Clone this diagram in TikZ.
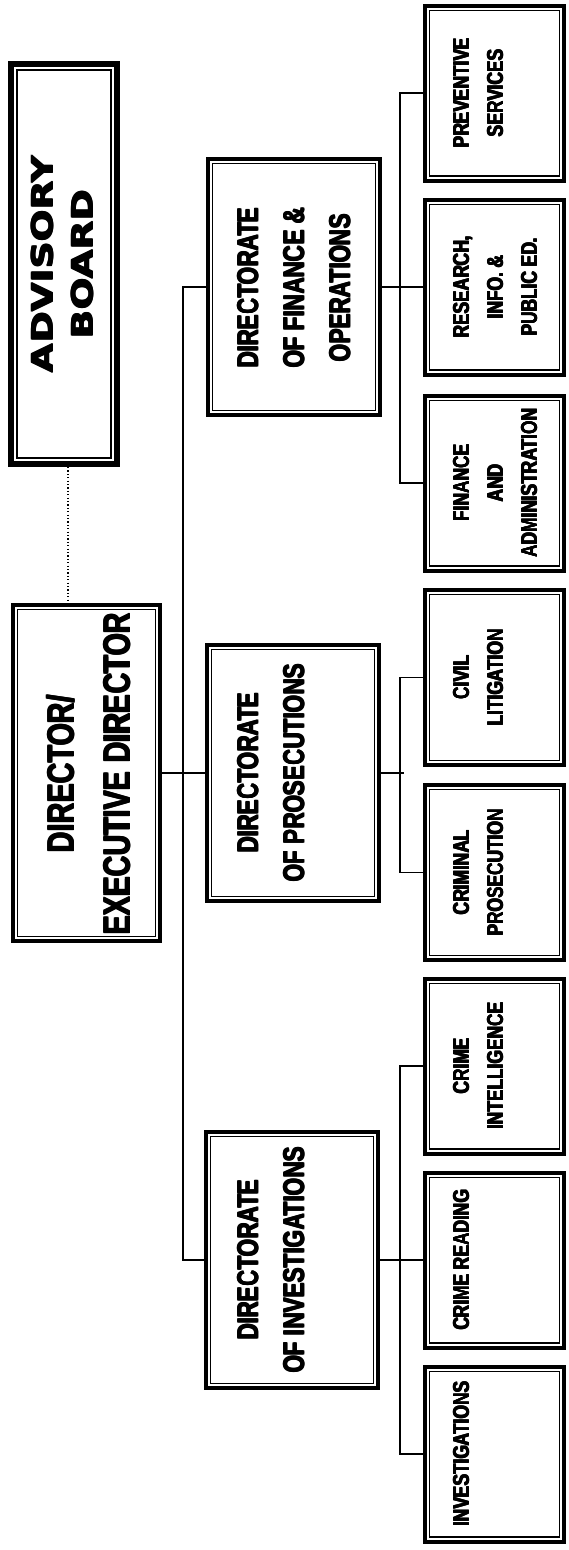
\documentclass[tikz,border=0pt]{standalone}
\usepackage{fontspec}
\setmainfont{Liberation Sans}
\newfontfamily\condfont[FakeStretch=0.77]{Liberation Sans}
\newfontfamily\widefont[FakeStretch=1.3]{DejaVu Sans}
\newsavebox\rtbox
% rotated multi-line text, thickened by overprinting shifted copies
\newcommand\rottext[4]{\rotatebox{90}{\fontsize{#1}{#2}\selectfont
  \sbox\rtbox{\begin{tabular}{@{}c@{}}#3\end{tabular}}%
  \rlap{\usebox\rtbox}\rlap{\kern#4\usebox\rtbox}%
  \rlap{\raisebox{#4}{\usebox\rtbox}}\kern#4\raisebox{#4}{\usebox\rtbox}}}
\begin{document}
\begin{tikzpicture}[x=1pt,y=-1pt,
  box/.style={draw, line width=4pt, fill=white, inner sep=0pt,
    path picture={\draw[line width=1.2pt]
      ([shift={(4.6pt,-4.6pt)}]path picture bounding box.north west) rectangle
      ([shift={(-4.6pt,4.6pt)}]path picture bounding box.south east);}},
  advbox/.style={draw, line width=6pt, fill=white, inner sep=0pt,
    path picture={\draw[line width=1.4pt]
      ([shift={(6pt,-6pt)}]path picture bounding box.north west) rectangle
      ([shift={(-6pt,6pt)}]path picture bounding box.south east);}},
  childbox/.style={box, minimum width=139pt, minimum height=175pt},
  midbox/.style={box, minimum width=172pt, minimum height=256pt},
  txt/.style={anchor=west, inner sep=0pt},
  condtxt/.style={txt, font=\condfont\bfseries},
  conn/.style={line width=1.2pt},
  dotconn/.style={line width=1.2pt, dash pattern=on 1.2pt off 2.2pt}
]
\fill[white] (0,0) rectangle (568,1550);
\useasboundingbox (0,0) rectangle (568,1550);

% boxes
\node[advbox, minimum width=106pt, minimum height=400pt] (adv) at (64,264) {};
\node[box, minimum width=147pt, minimum height=336pt] (dir) at (86.5,773) {};
\node[midbox] (fin) at (294,287) {};
\node[midbox] (pro) at (293,773) {};
\node[midbox] (inv) at (292,1260) {};
\node[childbox] (prev) at (494.5,93) {};
\node[childbox] (res) at (494.5,287) {};
\node[childbox] (fa) at (494.5,483) {};
\node[childbox] (civ) at (494.5,677.5) {};
\node[childbox] (crim) at (494.5,872.5) {};
\node[childbox] (cint) at (494.5,1066) {};
\node[childbox] (cread) at (494.5,1260) {};
\node[childbox] (invs) at (494.5,1454) {};

% texts
\node[txt, font=\widefont\bfseries] (advT) at (24,264) {\rottext{29}{40}{ADVISORY\\BOARD}{1pt}};
\node[condtxt] (dirT) at (34,774) {\rottext{37.5}{56}{DIRECTOR/\\EXECUTIVE DIRECTOR}{1.1pt}};
\node[condtxt] (finT) at (225,288) {\rottext{29.3}{46}{DIRECTORATE\\OF FINANCE \&\\OPERATIONS}{0.9pt}};
\node[condtxt] (proT) at (225,773) {\rottext{29.3}{46}{DIRECTORATE\\OF PROSECUTIONS}{0.9pt}};
\node[condtxt] (invT) at (225,1260) {\rottext{29.3}{46}{DIRECTORATE\\OF INVESTIGATIONS}{0.9pt}};
\node[condtxt] (prevT) at (444.5,93) {\rottext{22.5}{34}{PREVENTIVE\\SERVICES}{0.7pt}};
\node[condtxt] (resT) at (444.5,287) {\rottext{22.5}{34}{RESEARCH,\\INFO. \&\\PUBLIC ED.}{0.7pt}};
\node[condtxt] (faT) at (444.5,483) {\rottext{22.5}{34}{FINANCE\\AND\\ADMINISTRATION}{0.7pt}};
\node[condtxt] (civT) at (444.5,677.5) {\rottext{22.5}{34}{CIVIL\\LITIGATION}{0.7pt}};
\node[condtxt] (crimT) at (444.5,872.5) {\rottext{22.5}{34}{CRIMINAL\\PROSECUTION}{0.7pt}};
\node[condtxt] (cintT) at (444.5,1066) {\rottext{22.5}{34}{CRIME\\INTELLIGENCE}{0.7pt}};
\node[condtxt] (creadT) at (444.5,1260) {\rottext{22.5}{34}{CRIME READING}{0.7pt}};
\node[condtxt] (invsT) at (444.5,1454) {\rottext{22.5}{34}{INVESTIGATIONS}{0.7pt}};

% connectors
\draw[dotconn] ([xshift=4pt]adv.south) -- ([xshift=4pt]adv.south |- dir.north);
\draw[conn] (dir.east) -- (pro.west);
\draw[conn] (fin.west) -- ++(-23,0) |- (inv.west);
\draw[conn] (fin.east) -- (res.west);
\draw[conn] (prev.west) -- ++(-23,0) |- (fa.west);
\draw[conn] (pro.east) -- ++(23,0);
\draw[conn] (civ.west) -- ++(-23,0) |- (crim.west);
\draw[conn] (inv.east) -- (cread.west);
\draw[conn] (cint.west) -- ++(-23,0) |- (invs.west);
\end{tikzpicture}
\end{document}
